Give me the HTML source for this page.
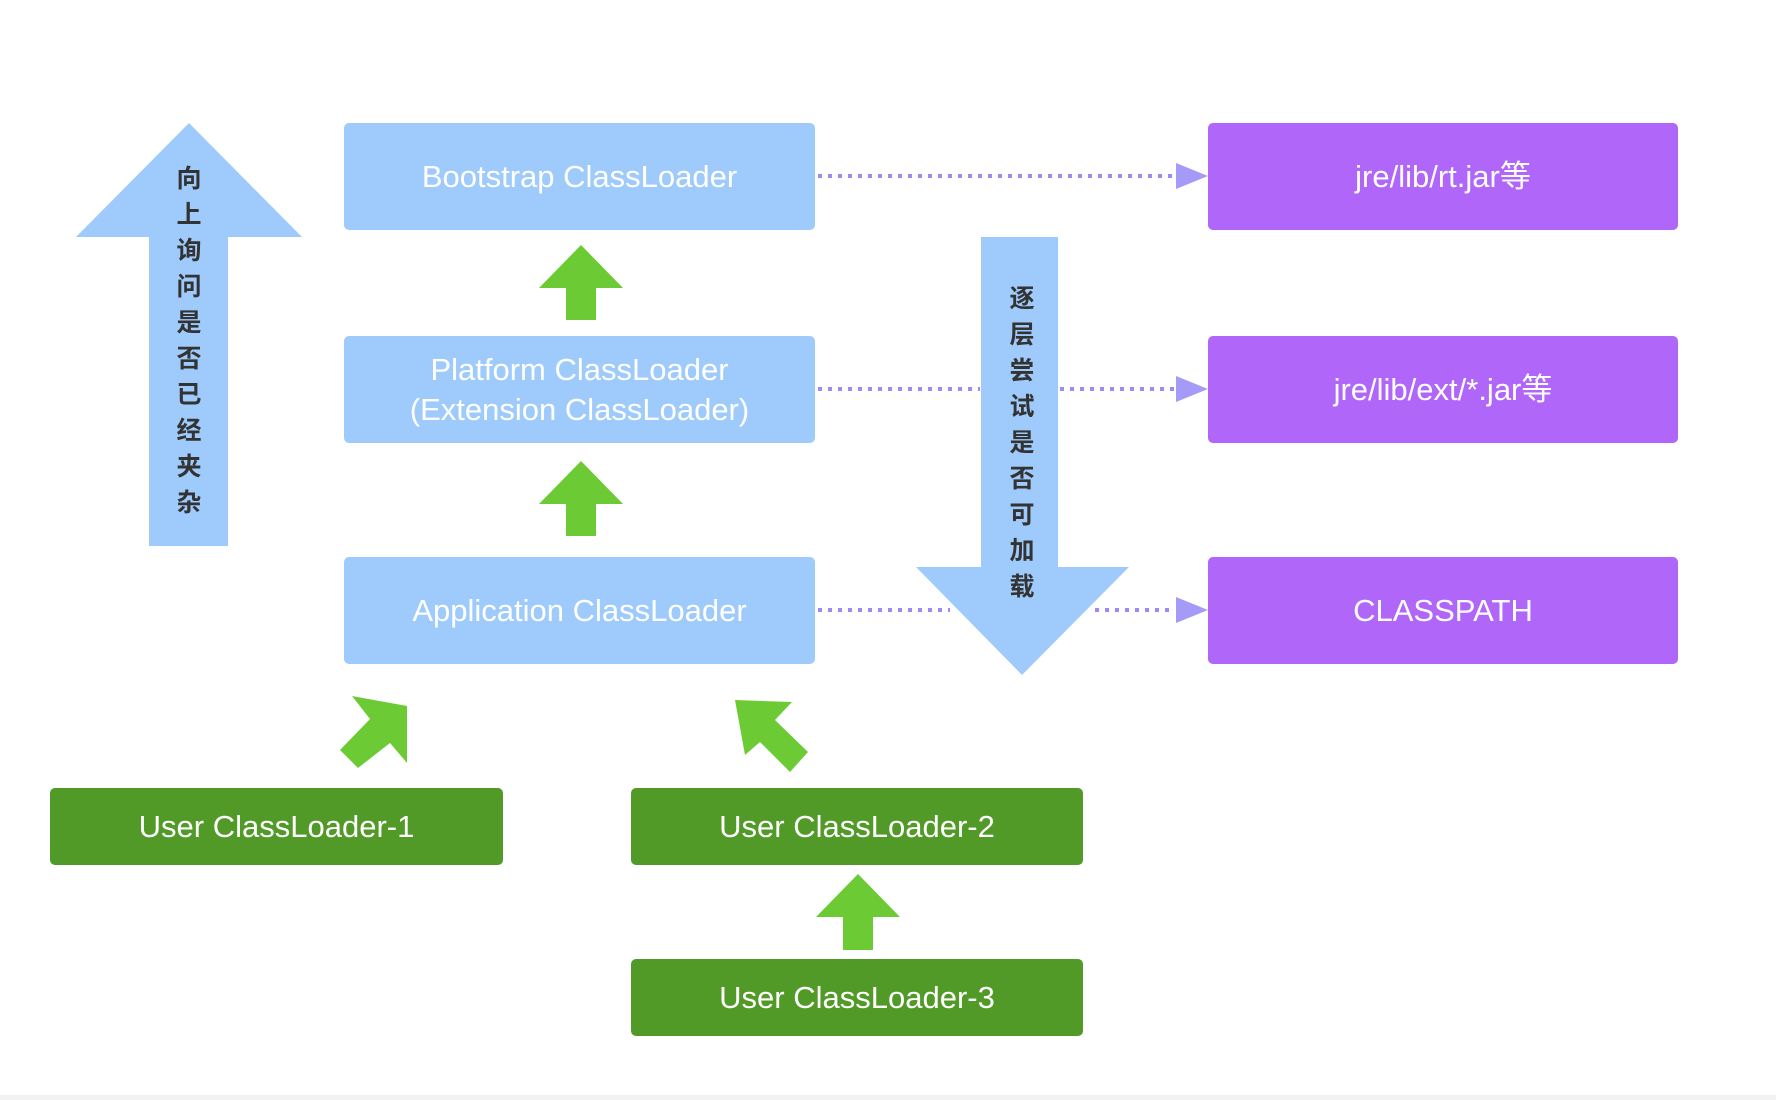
<!DOCTYPE html>
<html><head><meta charset="utf-8"><style>
html,body{margin:0;padding:0;background:#fff;}
body{width:1776px;height:1100px;position:relative;overflow:hidden;font-family:"Liberation Sans","Noto Sans CJK SC",sans-serif;}
.b{position:absolute;display:flex;align-items:center;justify-content:center;text-align:center;color:#fff;font-size:31px;border-radius:5px;line-height:40px;}
.blue{background:#9ecbfb;}
.pur{background:#b066f8;}
.grn{background:#519a27;}
.v{position:absolute;width:40px;text-align:center;font-size:25px;font-weight:bold;color:#333;line-height:36px;}
</style></head><body>
<svg width="1776" height="1100" style="position:absolute;left:0;top:0">
<g fill="#9ecbfb">
<polygon points="189,123 302,237 228,237 228,546 149,546 149,237 76,237"/>
<polygon points="981,237 1058,237 1058,567 1129,567 1022,675 916,567 981,567"/>
</g>
<g stroke="#9b8bf5" stroke-width="4" stroke-dasharray="4,6" fill="none">
<line x1="818" y1="176" x2="1175" y2="176"/>
<line x1="818" y1="389" x2="980" y2="389"/>
<line x1="1060" y1="389" x2="1175" y2="389"/>
<line x1="818" y1="610" x2="950" y2="610"/>
<line x1="1095" y1="610" x2="1175" y2="610"/>
</g>
<g fill="#a39bf7">
<polygon points="1176,163 1208,176 1176,189"/>
<polygon points="1176,376 1208,389 1176,402"/>
<polygon points="1176,597 1208,610 1176,623"/>
</g>
<g fill="#6ccb34">
<polygon points="581,245 623,288 596,288 596,320 566,320 566,288 539,288"/>
<polygon points="581,461 623,504 596,504 596,536 566,536 566,504 539,504"/>
<polygon points="858,874 900,917 873,917 873,950 843,950 843,917 816,917"/>
<polygon points="352,696 407,706 407,763 390,743 358,768 340,750 370,719"/>
<polygon points="735,700 792,702 775,720 808,752 790,772 760,742 745,755"/>
</g>
<rect x="0" y="1095" width="1776" height="5" fill="#f2f2f2"/>
</svg>
<div class="b blue" style="left:344px;top:123px;width:471px;height:107px">Bootstrap ClassLoader</div>
<div class="b blue" style="left:344px;top:336px;width:471px;height:107px">Platform ClassLoader<br>(Extension ClassLoader)</div>
<div class="b blue" style="left:344px;top:557px;width:471px;height:107px">Application ClassLoader</div>
<div class="b pur" style="left:1208px;top:123px;width:470px;height:107px">jre/lib/rt.jar等</div>
<div class="b pur" style="left:1208px;top:336px;width:470px;height:107px">jre/lib/ext/*.jar等</div>
<div class="b pur" style="left:1208px;top:557px;width:470px;height:107px">CLASSPATH</div>
<div class="b grn" style="left:50px;top:788px;width:453px;height:77px">User ClassLoader-1</div>
<div class="b grn" style="left:631px;top:788px;width:452px;height:77px">User ClassLoader-2</div>
<div class="b grn" style="left:631px;top:959px;width:452px;height:77px">User ClassLoader-3</div>
<div class="v" style="left:169px;top:161px">向<br>上<br>询<br>问<br>是<br>否<br>已<br>经<br>夹<br>杂</div>
<div class="v" style="left:1002px;top:281px">逐<br>层<br>尝<br>试<br>是<br>否<br>可<br>加<br>载</div>
</body></html>
